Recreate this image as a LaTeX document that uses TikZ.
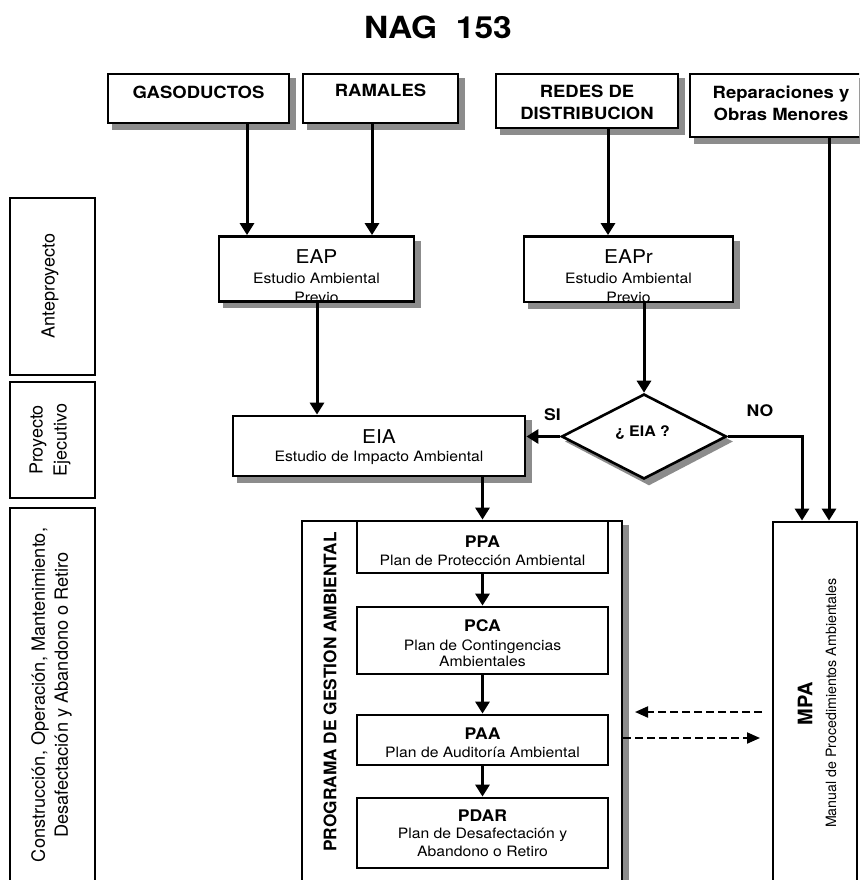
\documentclass[tikz,border=0pt]{standalone}
\usepackage{fontspec}
\setmainfont{TeX Gyre Heros}[FakeStretch=1.1]
\newfontfamily\rotf{TeX Gyre Heros}
\usetikzlibrary{arrows.meta,shapes.geometric}
\pgfdeclarelayer{bg}
\pgfsetlayers{bg,main}
\tikzset{
  box/.style={draw, line width=2.8pt, fill=white, inner sep=0pt, rectangle},
  shc/.style={fill=black!45},
  txt/.style={inner sep=0pt, anchor=base},
  ttlf/.style={font=\fontsize{30.5}{36}\selectfont\bfseries},
  topf/.style={font=\fontsize{16.8}{20}\selectfont\bfseries},
  bigf/.style={font=\fontsize{19}{22}\selectfont},
  subf/.style={font=\fontsize{14.3}{17}\selectfont},
  codef/.style={font=\fontsize{16}{19}\selectfont\bfseries},
  lblf/.style={font=\fontsize{16}{19}\selectfont\bfseries},
  arr/.style={line width=3pt, -{Triangle[width=14pt,length=12pt]}},
  darr/.style={line width=2pt, dash pattern=on 8pt off 4pt, -{Triangle[width=11pt,length=13pt]}},
  rot/.style={inner sep=0pt, rotate=90, align=center}
}
\newcommand{\boxshadow}[1]{%
  \fill[shc] ([shift={(5.5pt,-5.5pt)}]#1.south west) rectangle ([shift={(5.5pt,-5.5pt)}]#1.north east);}
\begin{document}
\begin{tikzpicture}[x=1pt,y=-1pt]
\useasboundingbox (0,0) rectangle (859,880);
\clip (0,0) rectangle (859,880);
\begin{pgfonlayer}{bg}
\fill[white] (0,0) rectangle (859,880);
\end{pgfonlayer}

% title
\node[txt,ttlf] (title) at (438,39) {NAG~~153};

% top boxes
\node[box, minimum width=181pt, minimum height=49pt] (gas) at (198.5,98.5) {};
\node[box, minimum width=155pt, minimum height=49pt] (ram) at (380.5,98.5) {};
\node[box, minimum width=182pt, minimum height=54pt] (red) at (587,101) {};
\node[box, minimum width=185pt, minimum height=63pt] (rep) at (782.5,105.5) {};
\node[txt,topf] (gas-t) at (198.5,99) {GASODUCTOS};
\node[txt,topf] (ram-t) at (380.5,97) {RAMALES};
\node[txt,topf] (red-t1) at (587,97.5) {REDES DE};
\node[txt,topf] (red-t2) at (587,119.5) {DISTRIBUCION};
\node[txt,topf] (rep-t1) at (781,99) {Reparaciones y};
\node[txt,topf] (rep-t2) at (781,120.5) {Obras Menores};

% EAP / EAPr
\node[box, minimum width=195pt, minimum height=65pt] (eap) at (316.5,269) {};
\node[box, minimum width=209pt, minimum height=65.5pt] (eapr) at (628.5,269.25) {};
\node[txt,bigf] (eap-t) at (316.5,263) {EAP};
\node[txt,subf] (eap-s) at (316.5,283) {Estudio Ambiental};
\node[txt,bigf] (eapr-t) at (628.5,263) {EAPr};
\node[txt,subf] (eapr-s) at (628.5,283) {Estudio Ambiental};
\begin{scope}
  \clip (219,236) rectangle (414,300);
  \node[txt,subf] (eap-p) at (316.5,302) {Previo};
\end{scope}
\begin{scope}
  \clip (524,236) rectangle (733,300.5);
  \node[txt,subf] (eapr-p) at (628.5,302.5) {Previo};
\end{scope}

% EIA and decision
\node[box, minimum width=292pt, minimum height=60pt] (eia) at (379,446) {};
\node[txt,bigf] (eia-t) at (379,443) {EIA};
\node[txt,subf] (eia-s) at (379,461.5) {Estudio de Impacto Ambiental};
\node[box, diamond, line width=2.6pt, minimum width=165pt, minimum height=85pt] (dia) at (644,436.5) {};
\node[txt,font=\fontsize{14.5}{17}\selectfont\bfseries] (dia-t) at (642.5,436) {¿ EIA ?};
\node[txt,lblf] (si) at (552.5,420.5) {SI};
\node[txt,lblf] (no) at (760,416.5) {NO};

% left phase column
\node[box, minimum width=85pt, minimum height=177pt] (ante) at (52.5,286.5) {};
\node[box, minimum width=85pt, minimum height=116pt] (proy) at (52.5,440) {};
\node[box, minimum width=85pt, minimum height=412pt] (cons) at (52.5,714) {};
\node[rot, font=\rotf\fontsize{18}{24}\selectfont] (ante-t) at (50,286) {Anteproyecto};
\node[rot, font=\rotf\fontsize{18}{24}\selectfont] (proy-t) at (50,440) {Proyecto\\Ejecutivo};
\node[rot, font=\rotf\fontsize{18.2}{23}\selectfont] (cons-t) at (51.5,695) {Construcción, Operación, Mantenimiento,\\Desafectación y Abandono o Retiro};

% programa de gestion ambiental
\node[box, minimum width=320pt, minimum height=399pt] (pga) at (462,720.5) {};
\node[rot, font=\rotf\fontsize{17.3}{20}\selectfont\bfseries] (pga-t) at (330,692) {PROGRAMA DE GESTION AMBIENTAL};
\node[box, minimum width=251pt, minimum height=52pt] (ppa) at (482.5,547) {};
\node[box, minimum width=251pt, minimum height=67pt] (pca) at (482.5,640.5) {};
\node[box, minimum width=251pt, minimum height=50pt] (paa) at (482.5,740) {};
\node[box, minimum width=251pt, minimum height=70pt] (pdar) at (482.5,833) {};
\node[txt,codef] (ppa-t) at (482.5,547) {PPA};
\node[txt,subf] (ppa-s) at (482.5,565) {Plan de Protección Ambiental};
\node[txt,codef] (pca-t) at (482.5,631) {PCA};
\node[txt,subf] (pca-s1) at (482.5,650.5) {Plan de Contingencias};
\node[txt,subf] (pca-s2) at (482.5,666) {Ambientales};
\node[txt,codef] (paa-t) at (482.5,739) {PAA};
\node[txt,subf] (paa-s) at (482.5,757) {Plan de Auditoría Ambiental};
\node[txt,codef] (pdar-t) at (482.5,821) {PDAR};
\node[txt,subf] (pdar-s1) at (482.5,838) {Plan de Desafectación y};
\node[txt,subf] (pdar-s2) at (482.5,856) {Abandono o Retiro};

% MPA
\node[box, minimum width=84pt, minimum height=398pt] (mpa) at (815,721) {};
\node[rot, font=\rotf\fontsize{20}{24}\selectfont\bfseries] (mpa-t) at (805,704) {MPA};
\node[rot, font=\rotf\fontsize{14.2}{17}\selectfont] (mpa-s) at (831,703) {Manual de Procedimientos Ambientales};

% drop shadows
\begin{pgfonlayer}{bg}
\boxshadow{gas}
\boxshadow{ram}
\boxshadow{red}
\boxshadow{rep}
\boxshadow{eap}
\boxshadow{eapr}
\boxshadow{eia}
\boxshadow{pga}
\fill[shc] ([shift={(5pt,-5pt)}]dia.north) -- ([shift={(5pt,-5pt)}]dia.east)
  -- ([shift={(5pt,-5pt)}]dia.south) -- ([shift={(5pt,-5pt)}]dia.west) -- cycle;
\end{pgfonlayer}

% helper positions
\coordinate (xg) at (247,0);
\coordinate (xr) at (372,0);
\coordinate (xd) at (608,0);
\coordinate (xm) at (829,0);
\coordinate (xe) at (317,0);
\coordinate (xn) at (802,0);
\coordinate (d1s) at (762,712);
\coordinate (d1e) at (635,712);
\coordinate (d2y) at (0,738);
\coordinate (d2e) at (760,738);

% connectors
\draw[arr] (gas.south -| xg) -- (eap.north -| xg);
\draw[arr] (ram.south -| xr) -- (eap.north -| xr);
\draw[arr] (red.south -| xd) -- (eapr.north -| xd);
\draw[arr] (rep.south -| xm) -- (mpa.north -| xm);
\draw[arr] (eap.south -| xe) -- (eia.north -| xe);
\draw[arr] (eapr.south -| dia.north) -- (dia.north);
\draw[arr] (dia.west) -- (eia.east |- dia.west);
\draw[arr] (dia.east) -| (mpa.north -| xn);
\draw[arr] (eia.south -| ppa.north) -- (ppa.north);
\draw[arr] (ppa.south) -- (pca.north);
\draw[arr] (pca.south) -- (paa.north);
\draw[arr] (paa.south) -- (pdar.north);
\draw[darr] (d1s) -- (d1e);
\draw[darr] (pga.east |- d2y) -- (d2e);
\end{tikzpicture}
\end{document}
